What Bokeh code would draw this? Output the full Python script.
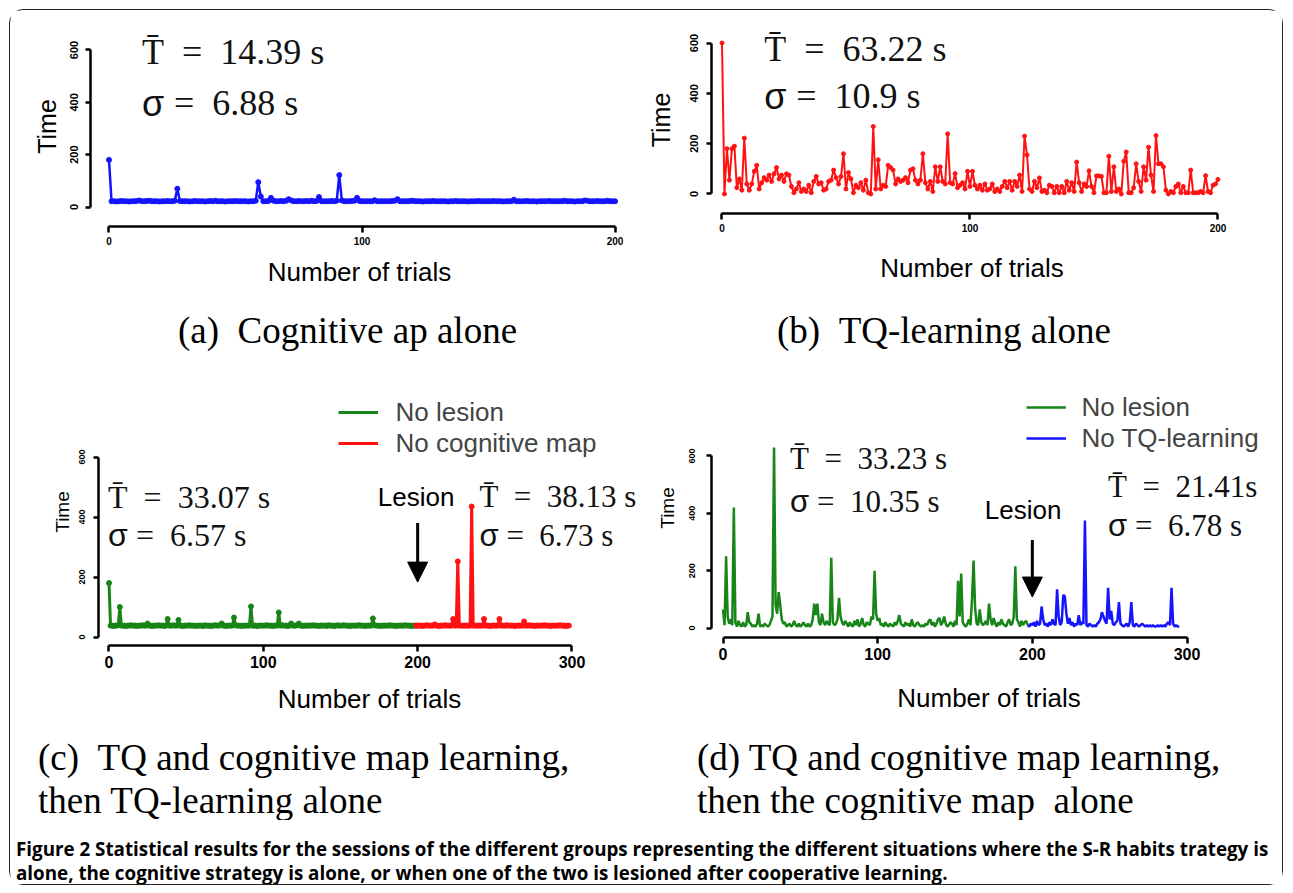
from bokeh.plotting import figure
from bokeh.layouts import column, row
from bokeh.models import Range1d, Label, Arrow, NormalHead, Legend, LegendItem, FixedTicker
from bokeh.embed import file_html
from bokeh.resources import INLINE

SANS = "Liberation Sans"
SERIF = "Liberation Serif"

# ---------------- data ----------------
# (a) Cognitive map alone, trials 0..200
a_time = [
    180, 22, 22, 21, 22, 23, 22, 22, 21, 22,
    22, 23, 25, 22, 22, 23, 24, 22, 22, 22,
    21, 22, 22, 23, 22, 22, 24, 70, 23, 22,
    22, 22, 21, 22, 23, 22, 22, 22, 21, 22,
    23, 22, 24, 22, 22, 22, 21, 22, 22, 22,
    23, 22, 22, 22, 22, 21, 22, 22, 24, 95,
    40, 22, 22, 23, 35, 24, 22, 22, 23, 22,
    24, 30, 25, 22, 22, 23, 22, 22, 23, 22,
    24, 22, 23, 38, 22, 22, 22, 22, 23, 22,
    24, 122, 25, 22, 22, 22, 23, 24, 35, 23,
    22, 22, 22, 22, 22, 26, 22, 22, 22, 22,
    22, 22, 23, 24, 30, 22, 22, 22, 22, 23,
    24, 22, 22, 22, 21, 22, 22, 22, 23, 22,
    22, 22, 22, 22, 21, 22, 22, 23, 22, 22,
    22, 22, 21, 22, 22, 22, 23, 22, 22, 22,
    22, 22, 23, 22, 22, 22, 21, 22, 22, 22,
    28, 22, 22, 22, 22, 23, 22, 22, 22, 21,
    22, 22, 22, 22, 23, 22, 22, 22, 22, 22,
    24, 22, 22, 22, 21, 22, 22, 22, 25, 24,
    22, 22, 22, 23, 22, 22, 22, 24, 22, 22,
    22,
]

# (b) TQ-learning alone, trials 0..200
b_time = [
    600, 0, 180, 55, 180, 190, 25, 60, 15, 222,
    40, 15, 40, 90, 114, 20, 45, 65, 55, 75,
    50, 80, 105, 60, 75, 50, 80, 75, 30, 5,
    20, 45, 10, 20, 10, 35, 5, 50, 70, 40,
    45, 15, 20, 50, 55, 95, 65, 40, 70, 160,
    20, 85, 60, 5, 35, 25, 45, 15, 55, 5,
    0, 268, 20, 136, 20, 35, 30, 114, 105, 95,
    40, 60, 50, 55, 65, 45, 95, 100, 55, 40,
    55, 160, 45, 20, 50, 10, 108, 50, 108, 50,
    40, 239, 45, 40, 81, 25, 35, 45, 20, 90,
    30, 90, 35, 20, 35, 15, 40, 15, 20, 40,
    10, 20, 10, 30, 50, 25, 50, 15, 50, 30,
    75, 10, 230, 155, 20, 10, 50, 25, 64, 10,
    15, 5, 35, 30, 5, 30, 5, 30, 5, 50,
    15, 45, 10, 127, 45, 10, 40, 30, 92, 30,
    5, 72, 72, 70, 5, 5, 150, 10, 108, 10,
    20, 0, 130, 167, 5, 5, 25, 120, 50, 10,
    108, 55, 186, 75, 10, 232, 120, 120, 108, 15,
    0, 10, 5, 30, 40, 5, 30, 5, 5, 95,
    5, 5, 5, 10, 5, 73, 10, 5, 35, 40,
    58,
]

# (c) no lesion (trials 0..199) then no cognitive map (trials 199..298)
c_green = [
    180, 38, 38, 37, 38, 38, 39, 100, 38, 38,
    38, 37, 38, 38, 39, 38, 38, 38, 37, 38,
    38, 38, 39, 38, 38, 45, 38, 38, 37, 38,
    38, 38, 39, 38, 38, 38, 37, 38, 60, 38,
    38, 38, 39, 38, 38, 57, 38, 38, 37, 38,
    38, 38, 39, 38, 38, 38, 37, 38, 38, 38,
    38, 37, 39, 38, 38, 38, 37, 38, 38, 39,
    38, 38, 39, 45, 38, 38, 37, 38, 38, 38,
    38, 65, 39, 38, 38, 38, 37, 38, 38, 38,
    38, 38, 102, 38, 38, 38, 37, 38, 38, 38,
    38, 38, 39, 38, 38, 38, 37, 38, 38, 38,
    82, 38, 39, 38, 38, 38, 37, 38, 45, 38,
    38, 38, 39, 45, 38, 38, 37, 38, 38, 38,
    38, 38, 39, 38, 38, 38, 37, 38, 38, 38,
    38, 37, 39, 38, 38, 38, 37, 38, 39, 38,
    38, 38, 39, 38, 38, 38, 37, 38, 38, 38,
    38, 38, 39, 38, 38, 38, 37, 38, 38, 38,
    38, 62, 39, 38, 38, 38, 37, 38, 38, 38,
    38, 38, 39, 38, 38, 38, 37, 38, 38, 38,
    38, 38, 39, 38, 38, 38, 37, 38, 38, 38,
]
c_red_start = 199
c_red = [
    38,
    38, 38, 38, 37, 38, 38, 39, 38, 38, 38,
    38, 42, 38, 38, 37, 38, 38, 38, 39, 38,
    38, 38, 38, 60, 38, 38, 252, 38, 38, 38,
    38, 38, 38, 38, 38, 435, 38, 38, 38, 38,
    38, 38, 38, 60, 38, 38, 38, 37, 38, 38,
    38, 38, 38, 60, 38, 38, 38, 38, 39, 38,
    38, 38, 38, 37, 38, 38, 38, 38, 38, 52,
    38, 38, 39, 38, 38, 38, 37, 38, 38, 38,
    38, 38, 39, 38, 38, 38, 37, 38, 38, 38,
    38, 38, 39, 38, 38, 38, 37, 38, 38,
]

# (d) no lesion (trials 0..197) then no TQ-learning (trials 197..295)
d_green = [
    65, 10, 250, 40, 15, 30, 10, 420, 20, 5,
    25, 10, 5, 20, 5, 10, 55, 20, 15, 5,
    10, 5, 15, 50, 5, 10, 5, 15, 10, 5,
    10, 25, 40, 630, 80, 50, 125, 80, 30, 15,
    20, 5, 10, 15, 5, 10, 25, 10, 5, 15,
    5, 10, 20, 10, 5, 15, 5, 10, 30, 85,
    45, 85, 20, 10, 50, 20, 10, 25, 15, 10,
    245, 20, 10, 15, 30, 105, 40, 20, 10, 25,
    15, 5, 20, 10, 5, 25, 10, 30, 5, 15,
    35, 10, 5, 20, 15, 10, 40, 30, 200, 50,
    25, 35, 10, 15, 5, 20, 10, 5, 15, 10,
    5, 20, 10, 25, 45, 15, 10, 5, 20, 10,
    15, 5, 30, 10, 5, 15, 20, 10, 5, 10,
    5, 15, 10, 25, 30, 10, 20, 5, 15, 30,
    35, 10, 20, 40, 15, 5, 10, 20, 15, 5,
    25, 10, 165, 40, 190, 20, 10, 5, 15, 30,
    10, 100, 235, 70, 15, 10, 65, 20, 10, 15,
    25, 10, 85, 30, 10, 35, 15, 5, 20, 10,
    30, 15, 10, 5, 20, 30, 10, 15, 40, 215,
    30, 20, 5, 25, 10, 20, 25, 10,
]
d_blue_start = 197
d_blue = [
    10, 5, 15,
    10, 20, 5, 25, 10, 15, 75, 30, 10, 15,
    5, 20, 10, 30, 15, 10, 135, 40, 10, 20,
    115, 110, 50, 15, 35, 10, 20, 5, 15, 10,
    45, 10, 20, 15, 375, 10, 5, 15, 10, 5,
    10, 5, 15, 20, 30, 55, 40, 25, 15, 140,
    30, 60, 15, 10, 20, 25, 90, 15, 10, 5,
    10, 15, 5, 20, 90, 10, 5, 15, 10, 5,
    10, 15, 10, 5, 10, 5, 10, 5, 10, 5,
    5, 10, 5, 10, 5, 10, 5, 15, 20, 10,
    140, 15, 5, 10, 5, 5,
]

y_ticks = [0, 200, 400, 600]
x_ticks_200 = [0, 100, 200]
x_ticks_300 = [0, 100, 200, 300]

GREEN = "#178517"
RED = "#ff1212"
BLUE = "#1414ff"
EN = "\u2002"
NB = "\u00a0"


def panel(width, height, xr, yr, borders, xticks, xbound, xtick_px, ytick_px,
          ylab_px, ylab_standoff, ytick_standoff, xlab_standoff):
    left, right, top, bottom = borders
    p = figure(width=width, height=height, x_range=Range1d(*xr), y_range=Range1d(*yr),
               output_backend="svg", toolbar_location=None,
               min_border_left=left, min_border_right=right,
               min_border_top=top, min_border_bottom=bottom,
               x_axis_label="Number of trials", y_axis_label="Time")
    p.outline_line_color = None
    p.grid.visible = False
    p.background_fill_color = "white"
    p.border_fill_color = "white"
    for ax in (p.xaxis[0], p.yaxis[0]):
        ax.axis_line_width = 2.5
        ax.axis_line_color = "black"
        ax.major_tick_line_width = 2.5
        ax.major_tick_line_color = "black"
        ax.major_tick_in = 0
        ax.major_tick_out = 6
        ax.minor_tick_line_color = None
        ax.major_label_text_font = SANS
        ax.major_label_text_font_style = "bold"
        ax.major_label_text_color = "black"
        ax.axis_label_text_font = SANS
        ax.axis_label_text_font_style = "normal"
        ax.axis_label_text_color = "black"
    xa = p.xaxis[0]
    ya = p.yaxis[0]
    xa.ticker = FixedTicker(ticks=xticks)
    xa.bounds = xbound
    xa.major_label_text_font_size = xtick_px
    xa.axis_label_text_font_size = "26px"
    xa.axis_label_standoff = xlab_standoff
    xa.major_label_standoff = 4
    ya.ticker = FixedTicker(ticks=y_ticks)
    ya.bounds = (0, 600)
    ya.major_label_orientation = "vertical"
    ya.major_label_text_font_size = ytick_px
    ya.major_label_standoff = ytick_standoff
    ya.axis_label_text_font_size = ylab_px
    ya.axis_label_standoff = ylab_standoff
    ya.major_tick_out = 5
    return p


def stat_labels(p, x, y1, y2, tbar, sigma, px):
    size = "%dpx" % px
    p.add_layout(Label(x=x, y=y1, text="T\u0304" + EN + "=" + EN + tbar, text_font=SERIF,
                       text_font_size=size, text_baseline="middle", text_color="#111"))
    # sigma drawn in a sans face, the rest of the expression in the serif face
    p.add_layout(Label(x=x, y=y2, text="\u03c3", text_font=SANS,
                       text_font_size=size, text_baseline="middle", text_color="#111"))
    p.add_layout(Label(x=x, y=y2, x_offset=round(0.88 * px), text="=" + EN + sigma,
                       text_font=SERIF, text_font_size=size, text_baseline="middle",
                       text_color="#111"))


# ---------------- (a) ----------------
pa = panel(630, 292, (-7.31, 205.3), (-74.5, 689.8), (80, 12, 16, 76),
           x_ticks_200, (0, 200), "10px", "11px", "25px", 7, 7, 9)
xa_ = list(range(len(a_time)))
pa.line(xa_, a_time, line_color=BLUE, line_width=2.5)
pa.scatter(xa_, a_time, size=5, fill_color=BLUE, line_color=BLUE)
stat_labels(pa, 13.0, 592, 397, "14.39 s", "6.88 s", 36)

# ---------------- (b) ----------------
pb = panel(642, 279, (-4.23, 205.85), (-77.5, 665.6), (71, 50, 16, 76),
           x_ticks_200, (0, 200), "10px", "11px", "25px", 13, 8, 18)
xb_ = list(range(len(b_time)))
pb.line(xb_, b_time, line_color=RED, line_width=2)
pb.scatter(xb_, b_time, size=4, fill_color=RED, line_color=RED)
stat_labels(pb, 17.0, 576, 389, "63.22 s", "10.9 s", 36)

# ---------------- (c) ----------------
pc = panel(630, 363, (-6.8, 344.4), (-28.3, 861.7), (88, 0, 8, 88),
           x_ticks_300, (0, 300), "16px", "9px", "19px", 4, 8, 13)
xcg = list(range(len(c_green)))
xcr = list(range(c_red_start, c_red_start + len(c_red)))
lcg = pc.line(xcg, c_green, line_color=GREEN, line_width=3)
pc.scatter(xcg, c_green, size=5, fill_color=GREEN, line_color=GREEN)
lcr = pc.line(xcr, c_red, line_color=RED, line_width=3)
pc.scatter(xcr, c_red, size=5, fill_color=RED, line_color=RED)
stat_labels(pc, -0.6, 467, 340, "33.07 s", "6.57 s", 32)
stat_labels(pc, 240.0, 467, 340, "38.13 s", "6.73 s", 31)
pc.add_layout(Label(x=199, y=467, text="Lesion", text_font=SANS, text_font_size="26px",
                    text_align="center", text_baseline="middle", text_color="black"))
pc.add_layout(Arrow(end=NormalHead(size=20, fill_color="black", line_color="black"),
                    x_start=200, y_start=380, x_end=200, y_end=183,
                    line_width=3, line_color="black"))
leg_c = Legend(items=[LegendItem(label="No lesion", renderers=[lcg]),
                      LegendItem(label="No cognitive map", renderers=[lcr])],
               location=(239.5, 186.5), border_line_color=None, background_fill_alpha=0,
               label_text_font=SANS, label_text_font_size="26px", glyph_width=40,
               glyph_height=28, label_height=28, spacing=0, padding=0, margin=0,
               label_standoff=18)
pc.add_layout(leg_c)

# ---------------- (d) ----------------
pd = panel(642, 355, (-7.44, 351.4), (-33.1, 870.3), (71, 16, 8, 88),
           x_ticks_300, (0, 300), "16px", "9px", "19px", 9, 11, 20)
xdg = list(range(len(d_green)))
xdb = list(range(d_blue_start, d_blue_start + len(d_blue)))
ldg = pd.line(xdg, d_green, line_color=GREEN, line_width=2.5)
ldb = pd.line(xdb, d_blue, line_color=BLUE, line_width=2.5)
stat_labels(pd, 43.3, 593, 440, "33.23 s", "10.35 s", 31)
stat_labels(pd, 249, 492, 356, "21.41s", "6.78 s", 31)
pd.add_layout(Label(x=194, y=410, text="Lesion", text_font=SANS, text_font_size="26px",
                    text_align="center", text_baseline="middle", text_color="black"))
pd.add_layout(Arrow(end=NormalHead(size=20, fill_color="black", line_color="black"),
                    x_start=200, y_start=307, x_end=200, y_end=108,
                    line_width=3, line_color="black"))
leg_d = Legend(items=[LegendItem(label="No lesion", renderers=[ldg]),
                      LegendItem(label="No TQ-learning", renderers=[ldb])],
               location=(314.5, 183.5), border_line_color=None, background_fill_alpha=0,
               label_text_font=SANS, label_text_font_size="26px", glyph_width=40,
               glyph_height=28, label_height=28, spacing=0, padding=0, margin=0,
               label_standoff=16)
pd.add_layout(leg_d)


# ---------------- sub-figure captions ----------------
def text_strip(height):
    p = figure(width=1272, height=height, x_range=Range1d(0, 1272), y_range=Range1d(0, height),
               output_backend="svg", toolbar_location=None, min_border=0,
               x_axis_location=None, y_axis_location=None)
    p.grid.visible = False
    p.outline_line_color = None
    p.background_fill_color = "white"
    p.border_fill_color = "white"
    return p


def cap_label(p, x, y, text, font=SERIF, size="37px", style="normal"):
    p.add_layout(Label(x=x, y=y, text=text, text_font=font, text_font_size=size,
                       text_font_style=style, text_baseline="middle", text_color="black"))


cap_ab = text_strip(68)
cap_label(cap_ab, 167.5, 40.5, "(a)" + NB + NB + "Cognitive ap alone")
cap_label(cap_ab, 766.5, 40.5, "(b)" + NB + NB + "TQ-learning alone")

cap_cd = text_strip(87)
cap_label(cap_cd, 27.5, 63.5, "(c)" + NB + NB + "TQ and cognitive map learning,")
cap_label(cap_cd, 27.5, 20.5, "then TQ-learning alone")
cap_label(cap_cd, 686.5, 63.5, "(d) TQ and cognitive map learning,")
cap_label(cap_cd, 686.5, 20.5, "then the cognitive map" + NB + NB + "alone")

fig_caption = [
    "Figure 2 Statistical results for the sessions of the different groups representing the different situations where the S-R habits trategy is",
    "alone, the cognitive strategy is alone, or when one of the two is lesioned after cooperative learning.",
]
cap_fig = text_strip(64)
cap_label(cap_fig, 5.5, 36, fig_caption[0], font="Open Sans", size="18.8px", style="bold")
cap_label(cap_fig, 5.5, 12, fig_caption[1], font="Open Sans", size="18.8px", style="bold")

layout = column(row(pa, pb), cap_ab, row(pc, pd), cap_cd, cap_fig,
                margin=(9, 0, 0, 9),
                styles={"border": "1.5px solid #222", "border-radius": "14px"})

open("out.html", "w").write(file_html(layout, INLINE))
